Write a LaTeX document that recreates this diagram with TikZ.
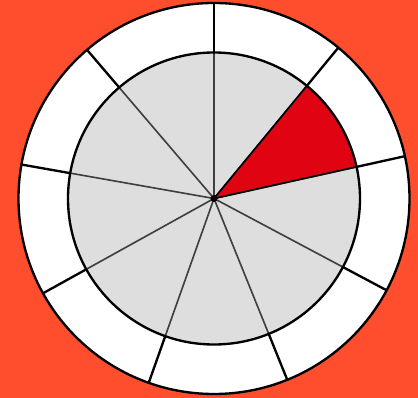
\documentclass[tikz,border=0pt]{standalone}
\usepackage{xcolor}
\usepackage{tikz}
\definecolor{bgorange}{RGB}{255,78,46}
\definecolor{discgray}{RGB}{222,222,222}
\definecolor{wedgered}{RGB}{224,4,18}

\begin{document}
\begin{tikzpicture}[
    x=0.03cm, y=0.03cm,
    rim/.style={draw=black, line width=2pt},
    divider/.style={draw=black, line width=2pt},
    spoke/.style={draw=black!75, line width=1.4pt},
]
\fill[bgorange] (-214,-199.5) rectangle (204,198.5);
\coordinate (c) at (0,0);

\fill[white] (c) circle (195.5);
\fill[discgray] (c) circle (146);
\fill[wedgered] (c) -- (12.5:146) arc (12.5:50.5:146) -- cycle;

\foreach \a in {90,50.5,12.5,-28,-68,-109.5,-151,170,130.5} {
    \draw[spoke] (c) -- (\a:146);
    \draw[divider] (\a:146) -- (\a:195.5);
}
\draw[spoke, draw=black] (c) -- (12.5:146);
\draw[spoke, draw=black] (c) -- (50.5:146);

\draw[rim] (c) circle (146);
\draw[rim] (c) circle (195.5);
\fill[black] (c) circle (3.5);
\end{tikzpicture}
\end{document}
